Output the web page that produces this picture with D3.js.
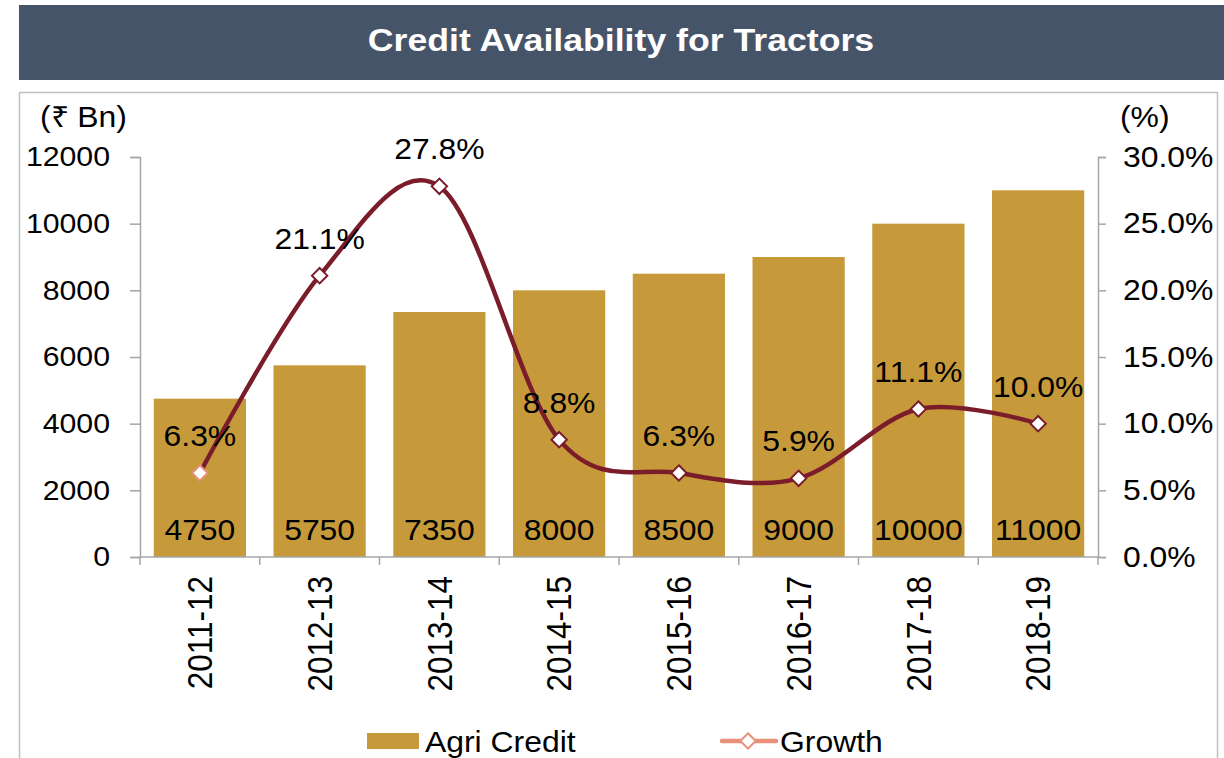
<!DOCTYPE html>
<html>
<head>
<meta charset="utf-8">
<script src="https://cdn.jsdelivr.net/npm/d3@7"></script>
<style>
  html, body { margin: 0; padding: 0; background: #fff; }
  svg { display: block; font-family: "Liberation Sans", Arial, sans-serif; }
</style>
</head>
<body>
<svg id="chart" width="1224" height="758"></svg>
<script>
// Agri credit for tractors (₹ Bn) and its year-on-year growth
const years = ["2011-12", "2012-13", "2013-14", "2014-15", "2015-16", "2016-17", "2017-18", "2018-19"];
const agriCredit = [4750, 5750, 7350, 8000, 8500, 9000, 10000, 11000];
const growth = [0.063, 0.211, 0.278, 0.088, 0.063, 0.059, 0.111, 0.100];
const leftTicks = [0, 2000, 4000, 6000, 8000, 10000, 12000];
const rightTicks = [0, 0.05, 0.10, 0.15, 0.20, 0.25, 0.30];

const barColor = "#C69A3B";
const lineColor = "#7B1C2B";
const legendLineColor = "#E8907A";
const axisColor = "#A6A6A6";
const fontSize = 29;
const leftTickFontSize = 27.5;
const catFontSize = 31.5;
const widen = 1.1; // glyphs are drawn slightly wide

const svg = d3.select("#chart");

// Move x/y into a transform so the glyphs can be widened around their anchor
function widenText(sel, k = widen) {
  sel.each(function () {
    const t = d3.select(this);
    const tx = +t.attr("x") || 0, ty = +t.attr("y") || 0;
    t.attr("x", 0).attr("y", 0).attr("transform", `translate(${tx},${ty}) scale(${k},1)`);
  });
}

// Header band
svg.append("rect").attr("x", 19).attr("y", 5).attr("width", 1205).attr("height", 75).attr("fill", "#465469");
svg.append("text").attr("x", 621).attr("y", 51).attr("text-anchor", "middle")
  .attr("fill", "#fff").attr("font-weight", "bold").attr("font-size", 31)
  .text("Credit Availability for Tractors").call(widenText, 1.15);

// Chart frame
svg.append("rect").attr("x", 19.5).attr("y", 92.5).attr("width", 1198).attr("height", 700)
  .attr("fill", "none").attr("stroke", "#BFBFBF").attr("stroke-width", 1.5);

const plot = { left: 140, right: 1098, top: 157, bottom: 557 };

const x = d3.scaleBand().domain(years).range([plot.left, plot.right]).paddingInner(0.23).paddingOuter(0.115);
const yL = d3.scaleLinear().domain([0, 12000]).range([plot.bottom, plot.top]);
const yR = d3.scaleLinear().domain([0, 0.30]).range([plot.bottom, plot.top]);

// Bars
svg.append("g").selectAll("rect").data(years).join("rect")
  .attr("x", d => x(d)).attr("width", x.bandwidth())
  .attr("y", (d, i) => yL(agriCredit[i]))
  .attr("height", (d, i) => yL(0) - yL(agriCredit[i]))
  .attr("fill", barColor);

// Left axis
const gL = svg.append("g").attr("transform", `translate(${plot.left},0)`)
  .call(d3.axisLeft(yL).tickValues(leftTicks).tickSize(10).tickPadding(20).tickFormat(d3.format("d")));
// Right axis
const gR = svg.append("g").attr("transform", `translate(${plot.right},0)`)
  .call(d3.axisRight(yR).tickValues(rightTicks).tickSize(8).tickPadding(17).tickFormat(d3.format(".1%")));
// Bottom axis: ticks at category boundaries
const gB = svg.append("g").attr("transform", `translate(0,${plot.bottom})`)
  .call(d3.axisBottom(x).tickSize(0).tickPadding(0).tickFormat(""));
gB.selectAll(".tick").remove();
const bounds = years.map((d, i) => plot.left + x.step() * i).concat([plot.right]);
gB.selectAll("line.bound").data(bounds).join("line").attr("class", "bound")
  .attr("x1", d => d).attr("x2", d => d).attr("y1", 0).attr("y2", 8);

[gL, gR, gB].forEach(g => {
  g.select(".domain").attr("stroke", axisColor).attr("stroke-width", 1.5);
  g.selectAll("line").attr("stroke", axisColor).attr("stroke-width", 1.5);
  g.selectAll("text").attr("font-size", g === gL ? leftTickFontSize : fontSize).attr("fill", "#000")
    .attr("font-family", "'Liberation Sans', Arial, sans-serif")
    .each(function () {
      const t = d3.select(this);
      const tx = +t.attr("x") || 0;
      t.attr("x", 0).attr("transform", `translate(${tx},0) scale(${widen},1)`);
    });
});
gB.select(".domain").attr("d", `M${plot.left},0H${plot.right}`);

// Category labels, rotated
svg.append("g").selectAll("text").data(years).join("text")
  .attr("transform", d => `translate(${x(d) + x.bandwidth() / 2},576) scale(${widen},1) rotate(-90)`)
  .attr("text-anchor", "end").attr("dy", "0.35em")
  .attr("font-size", catFontSize).attr("fill", "#000").text(d => d);

// Axis unit captions
svg.append("text").attr("x", 40).attr("y", 127).attr("font-size", fontSize).text("(₹ Bn)").call(widenText);
svg.append("text").attr("x", 1120).attr("y", 127).attr("font-size", fontSize).text("(%)").call(widenText);

// Bar value labels
svg.append("g").selectAll("text").data(years).join("text")
  .attr("x", d => x(d) + x.bandwidth() / 2).attr("y", 540)
  .attr("text-anchor", "middle").attr("font-size", fontSize).attr("fill", "#000")
  .text((d, i) => agriCredit[i]).call(widenText);

// Growth line (smoothed)
const cx = (d, i) => x(years[i]) + x.bandwidth() / 2;
const line = d3.line().x(cx).y(d => yR(d)).curve(d3.curveCardinal.tension(0));
svg.append("path").datum(growth).attr("d", line)
  .attr("fill", "none").attr("stroke", lineColor).attr("stroke-width", 4.5);

// Diamond markers
const diamond = d3.symbol().type(d3.symbolDiamond2).size(150);
svg.append("g").selectAll("path").data(growth).join("path")
  .attr("d", diamond)
  .attr("transform", (d, i) => `translate(${cx(d, i)},${yR(d)})`)
  .attr("fill", "#fff")
  .attr("stroke", (d, i) => i === 0 ? legendLineColor : lineColor).attr("stroke-width", 2);

// Growth labels
svg.append("g").selectAll("text").data(growth).join("text")
  .attr("x", cx).attr("y", d => yR(d) - 27)
  .attr("text-anchor", "middle").attr("font-size", fontSize).attr("fill", "#000")
  .text(d => d3.format(".1%")(d)).call(widenText);

// Legend
const lg = svg.append("g");
lg.append("rect").attr("x", 367).attr("y", 733).attr("width", 52).attr("height", 16).attr("fill", barColor);
lg.append("text").attr("x", 425).attr("y", 752).attr("font-size", fontSize).text("Agri Credit").call(widenText);
lg.append("line").attr("x1", 722).attr("x2", 776).attr("y1", 741).attr("y2", 741)
  .attr("stroke", legendLineColor).attr("stroke-width", 4.5).attr("stroke-linecap", "round");
lg.append("path").attr("d", diamond).attr("transform", "translate(748,741)")
  .attr("fill", "#fff").attr("stroke", legendLineColor).attr("stroke-width", 2);
lg.append("text").attr("x", 780).attr("y", 752).attr("font-size", fontSize).text("Growth").call(widenText);
</script>
</body>
</html>
